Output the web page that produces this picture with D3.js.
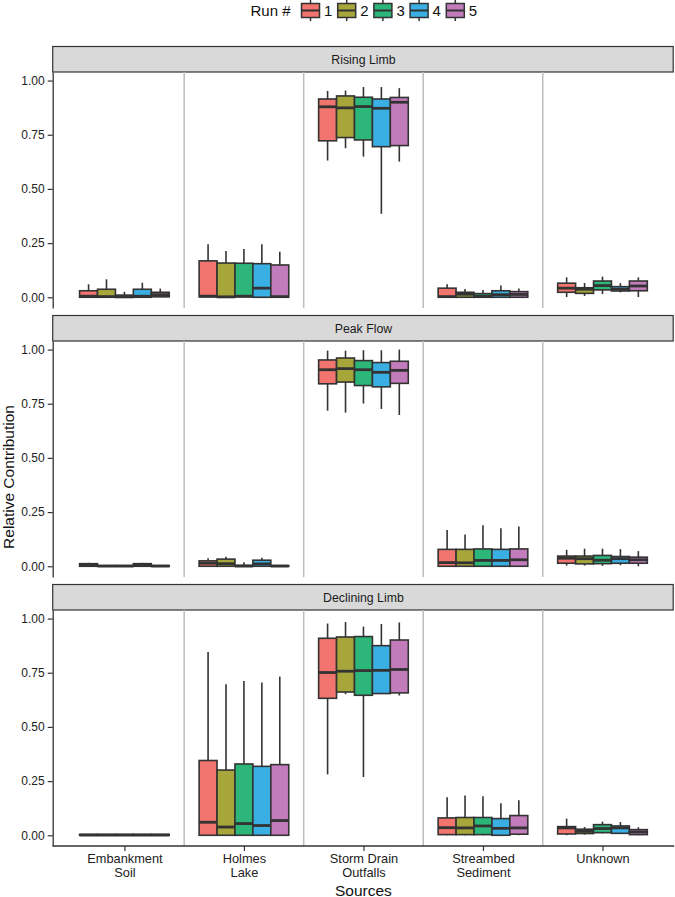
<!DOCTYPE html>
<html>
<head>
<meta charset="utf-8">
<script src="https://cdn.jsdelivr.net/npm/d3@7/dist/d3.min.js"></script>
<style>
  html, body { margin: 0; padding: 0; background: #fff; }
  svg { display: block; font-family: Arial, "Liberation Sans", sans-serif; }
</style>
</head>
<body>
<svg id="chart" width="675" height="897"></svg>
<script>
// ---------------- DATA ----------------
const facets = ["Rising Limb", "Peak Flow", "Declining Limb"];
const sources = ["Embankment\nSoil", "Holmes\nLake", "Storm Drain\nOutfalls", "Streambed\nSediment", "Unknown"];
const runs = ["1", "2", "3", "4", "5"];
const runColors = ["#F1746E", "#A6A63A", "#2CB67A", "#3AAFE4", "#C27CBB"];
const yTicks = [0, 0.25, 0.5, 0.75, 1.0];

// each source -> each run: [lower whisker, q1, median, q3, upper whisker]
const risingLimb = [
  [[0, 0, 0.005, 0.030, 0.060], [0, 0, 0.003, 0.037, 0.083], [0, 0, 0.002, 0.010, 0.025], [0, 0, 0.005, 0.037, 0.067], [0, 0.002, 0.012, 0.023, 0.040]],
  [[0, 0.002, 0.005, 0.168, 0.245], [0, 0, 0.002, 0.158, 0.214], [0, 0.002, 0.005, 0.157, 0.223], [0, 0, 0.042, 0.155, 0.245], [0, 0, 0.003, 0.149, 0.210]],
  [[0.631, 0.722, 0.879, 0.915, 0.952], [0.688, 0.737, 0.874, 0.929, 0.954], [0.649, 0.726, 0.880, 0.923, 0.970], [0.385, 0.695, 0.872, 0.915, 0.970], [0.626, 0.700, 0.900, 0.922, 0.965]],
  [[0, 0, 0.003, 0.042, 0.060], [0, 0, 0.014, 0.023, 0.038], [0, 0, 0.005, 0.017, 0.034], [0, 0, 0.012, 0.030, 0.054], [0, 0, 0.013, 0.026, 0.040]],
  [[0.001, 0.023, 0.042, 0.065, 0.092], [0.006, 0.018, 0.037, 0.044, 0.066], [0.015, 0.034, 0.054, 0.075, 0.095], [0.023, 0.029, 0.037, 0.049, 0.065], [0.001, 0.030, 0.052, 0.075, 0.092]]
];
const peakFlow = [
  [[0, 0, 0.005, 0.012, 0.016], [0, 0, 0.001, 0.003, 0.004], [0, 0, 0.001, 0.003, 0.004], [0, 0, 0.005, 0.012, 0.016], [0, 0, 0.001, 0.003, 0.004]],
  [[0, 0, 0.014, 0.025, 0.037], [0, 0, 0.012, 0.033, 0.044], [0, 0, 0.001, 0.004, 0.019], [0, 0, 0.011, 0.028, 0.039], [0, 0, 0.001, 0.003, 0.004]],
  [[0.718, 0.842, 0.907, 0.952, 0.995], [0.709, 0.850, 0.912, 0.961, 0.995], [0.751, 0.834, 0.907, 0.949, 0.997], [0.726, 0.828, 0.895, 0.940, 0.997], [0.698, 0.844, 0.904, 0.946, 1.0]],
  [[0, 0, 0.017, 0.078, 0.167], [0, 0, 0.016, 0.078, 0.147], [0, 0, 0.027, 0.080, 0.189], [0, 0, 0.027, 0.078, 0.175], [0, 0, 0.030, 0.080, 0.183]],
  [[0.003, 0.014, 0.037, 0.047, 0.076], [0.003, 0.011, 0.035, 0.047, 0.081], [0.002, 0.012, 0.028, 0.050, 0.081], [0.005, 0.014, 0.035, 0.045, 0.079], [0, 0.014, 0.030, 0.042, 0.070]]
];
const decliningLimb = [
  [[0, 0, 0.001, 0.004, 0.004], [0, 0, 0.001, 0.004, 0.004], [0, 0, 0.001, 0.004, 0.004], [0, 0, 0.001, 0.004, 0.004], [0, 0, 0.001, 0.004, 0.004]],
  [[0, 0, 0.060, 0.345, 0.846], [0, 0, 0.038, 0.301, 0.697], [0, 0, 0.054, 0.329, 0.712], [0, 0, 0.045, 0.318, 0.705], [0, 0, 0.068, 0.326, 0.732]],
  [[0.281, 0.632, 0.751, 0.909, 0.977], [0.651, 0.661, 0.757, 0.915, 0.984], [0.269, 0.646, 0.760, 0.917, 0.963], [0.654, 0.654, 0.761, 0.875, 0.975], [0.645, 0.657, 0.765, 0.901, 0.982]],
  [[0, 0.003, 0.035, 0.080, 0.175], [0, 0.003, 0.034, 0.082, 0.183], [0, 0.003, 0.043, 0.082, 0.180], [0, 0, 0.032, 0.077, 0.148], [0, 0.005, 0.034, 0.091, 0.162]],
  [[0, 0.006, 0.034, 0.040, 0.077], [0.003, 0.008, 0.018, 0.028, 0.038], [0.009, 0.012, 0.031, 0.049, 0.063], [0.006, 0.009, 0.034, 0.043, 0.061], [0, 0.003, 0.015, 0.026, 0.037]]
];
const facetData = [risingLimb, peakFlow, decliningLimb];

// ---------------- LAYOUT ----------------
const svg = d3.select("#chart");
const panelLeft = 52.7, panelRight = 674.2;
const panelTops = [72, 341, 610];
const panelH = 236;
const stripH = 25.5;
const ink = "#333333";
const fontFam = 'Arial, "Liberation Sans", sans-serif';

const x = d3.scalePoint().domain(sources).range([panelLeft, panelRight]).padding(0.6);
const step = x.step();
const xRun = d3.scaleBand().domain(runs).range([-0.375 * step, 0.375 * step]).padding(0);
const color = d3.scaleOrdinal().domain(runs).range(runColors);

facets.forEach((facet, fi) => {
  const top = panelTops[fi];
  const bottom = top + panelH;
  const y = d3.scaleLinear().domain([-0.0495, 1.0395]).range([bottom, top]);
  const g = svg.append("g");

  // strip
  g.append("rect")
    .attr("x", panelLeft).attr("y", top - stripH)
    .attr("width", panelRight - panelLeft - 1).attr("height", stripH)
    .attr("fill", "#d9d9d9").attr("stroke", ink).attr("stroke-width", 1.2);
  g.append("text")
    .attr("x", (panelLeft + panelRight) / 2).attr("y", top - stripH / 2)
    .attr("dy", "0.35em").attr("text-anchor", "middle")
    .attr("font-size", 12.3).attr("fill", "#1a1a1a").text(facet);

  // separators between sources
  sources.slice(0, -1).forEach(s => {
    g.append("line")
      .attr("x1", x(s) + step / 2).attr("x2", x(s) + step / 2)
      .attr("y1", top).attr("y2", bottom)
      .attr("stroke", "#bdbdbd").attr("stroke-width", 1.5);
  });

  // boxplots
  sources.forEach((s, si) => {
    runs.forEach((r, ri) => {
      const [lo, q1, med, q3, hi] = facetData[fi][si][ri];
      const x0 = x(s) + xRun(r);
      const bw = xRun.bandwidth();
      const cx = x0 + bw / 2;
      g.append("line").attr("x1", cx).attr("x2", cx).attr("y1", y(hi)).attr("y2", y(q3))
        .attr("stroke", ink).attr("stroke-width", 1.6);
      g.append("line").attr("x1", cx).attr("x2", cx).attr("y1", y(q1)).attr("y2", y(lo))
        .attr("stroke", ink).attr("stroke-width", 1.6);
      g.append("rect").attr("x", x0).attr("y", y(q3))
        .attr("width", bw).attr("height", Math.max(0, y(q1) - y(q3)))
        .attr("fill", color(r)).attr("stroke", ink).attr("stroke-width", 1.6);
      g.append("line").attr("x1", x0).attr("x2", x0 + bw).attr("y1", y(med)).attr("y2", y(med))
        .attr("stroke", ink).attr("stroke-width", 2.8);
    });
  });

  // y axis
  const ya = g.append("g").attr("transform", `translate(${panelLeft},0)`)
    .call(d3.axisLeft(y).tickValues(yTicks).tickFormat(d3.format(".2f")).tickSize(5).tickSizeOuter(0));
  ya.select(".domain").attr("stroke", ink).attr("stroke-width", 1.3);
  ya.selectAll(".tick line").attr("stroke", ink).attr("stroke-width", 1.2);
  ya.selectAll(".tick text").attr("font-size", 12).attr("fill", "#222").attr("x", -8)
    .style("font-family", fontFam);

  // x axis only on bottom panel
  if (fi === facets.length - 1) {
    const xa = g.append("g").attr("transform", `translate(0,${bottom})`)
      .call(d3.axisBottom(x).tickSize(5).tickSizeOuter(0).tickFormat(""));
    xa.select(".domain").attr("stroke", ink).attr("stroke-width", 1.3)
      .attr("d", `M${panelLeft},0H${panelRight}`);
    xa.selectAll(".tick line").attr("stroke", ink).attr("stroke-width", 1.2);
    xa.selectAll(".tick").each(function(d) {
      const lines = d.split("\n");
      const t = d3.select(this).append("text")
        .attr("text-anchor", "middle").attr("font-size", 12.8).attr("fill", "#222")
        .style("font-family", fontFam);
      lines.forEach((ln, i) => {
        t.append("tspan").attr("x", 0).attr("y", 16.7 + i * 14.6).text(ln);
      });
    });
  }
});

// axis titles
svg.append("text")
  .attr("transform", `translate(14,477) rotate(-90)`)
  .attr("text-anchor", "middle").attr("font-size", 15.5).attr("fill", "#111")
  .text("Relative Contribution");
svg.append("text")
  .attr("x", (panelLeft + panelRight) / 2).attr("y", 895.5)
  .attr("text-anchor", "middle").attr("font-size", 15.5).attr("fill", "#111")
  .text("Sources");

// legend
const legend = svg.append("g");
legend.append("text").attr("x", 250.5).attr("y", 16).attr("font-size", 15).attr("fill", "#111").text("Run #");
const keyW = 19, keyStart = 301, keySpacing = 36.2;
runs.forEach((r, i) => {
  const kx = keyStart + i * keySpacing;
  const kg = legend.append("g").attr("transform", `translate(${kx},0)`);
  kg.append("line").attr("x1", keyW / 2).attr("x2", keyW / 2).attr("y1", 0).attr("y2", 21)
    .attr("stroke", ink).attr("stroke-width", 1.5);
  kg.append("rect").attr("x", 0.5).attr("y", 3.5).attr("width", keyW - 1).attr("height", 14)
    .attr("fill", color(r)).attr("stroke", ink).attr("stroke-width", 1.5);
  kg.append("line").attr("x1", 0.5).attr("x2", keyW - 0.5).attr("y1", 10.5).attr("y2", 10.5)
    .attr("stroke", ink).attr("stroke-width", 2);
  legend.append("text").attr("x", kx + keyW + 4).attr("y", 16).attr("font-size", 15).attr("fill", "#111").text(r);
});
</script>
</body>
</html>
